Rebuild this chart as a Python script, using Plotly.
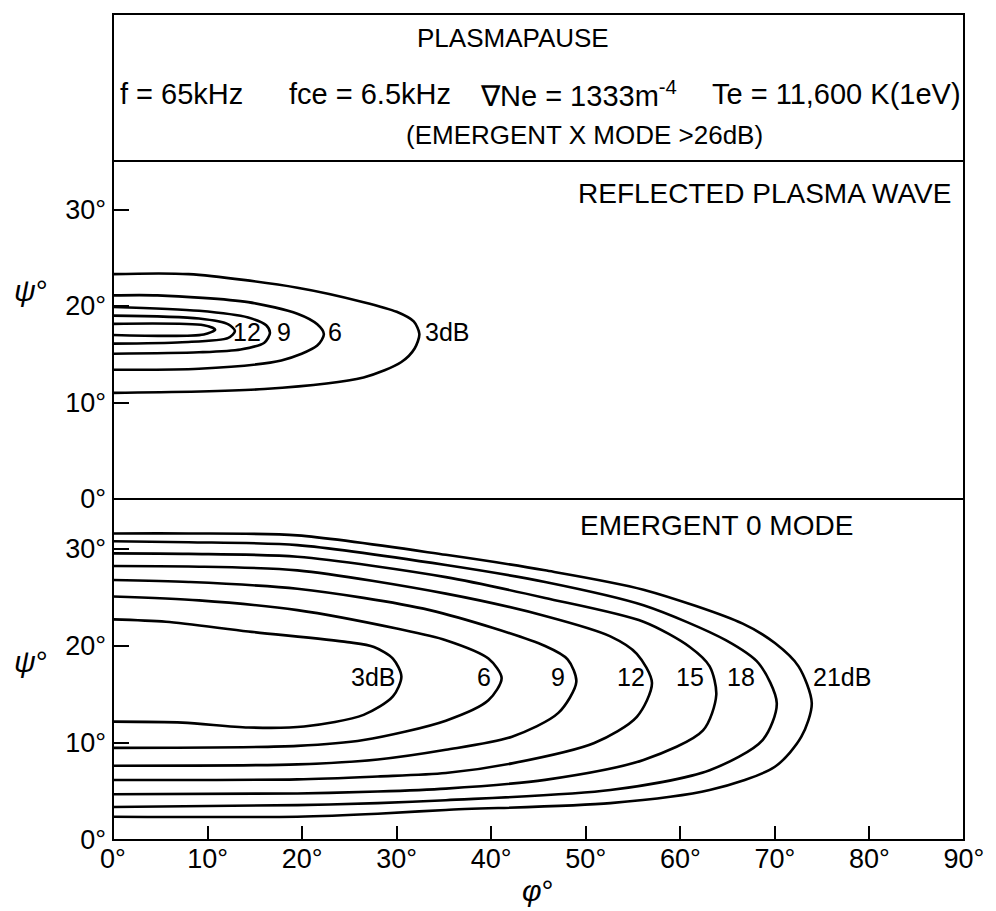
import plotly.graph_objects as go

# ---------------- data ----------------
phi_ticks = [0, 10, 20, 30, 40, 50, 60, 70, 80, 90]
phi_ticktext = ["0°", "10°", "20°", "30°", "40°", "50°", "60°", "70°", "80°", "90°"]
psi_ticks = [0, 10, 20, 30]
psi_ticktext = ["0°", "10°", "20°", "30°"]

# Upper panel: reflected plasma wave (contours 3,6,9,12 dB + innermost unlabeled 15 dB)
up3_phi = [0, 8, 19.5, 26.5, 30.0, 31.8, 32.4, 31.9, 30.5, 26.5, 16.0, 0]
up3_psi = [23.3, 23.3, 21.9, 20.4, 19.4, 18.4, 17.1, 15.6, 14.2, 12.6, 11.4, 11.0]
up6_phi = [0, 4.7, 14.3, 19.5, 21.6, 22.3, 21.6, 17.8, 9.1, 0]
up6_psi = [21.1, 21.1, 20.4, 19.2, 18.1, 17.1, 15.9, 14.35, 13.5, 13.4]
up9_phi = [0, 9.1, 14.3, 16.2, 16.6, 16.0, 13.5, 9.1, 0]
up9_psi = [19.9, 19.5, 18.8, 18.0, 17.2, 16.2, 15.5, 15.2, 15.05]
up12_phi = [0, 9.1, 12.2, 12.9, 12.2, 7.3, 0]
up12_psi = [19.0, 18.7, 18.1, 17.4, 16.7, 16.25, 16.1]
up15_phi = [0, 9.6, 10.8, 9.6, 0]
up15_psi = [18.15, 18.0, 17.55, 17.05, 17.0]
up_label_text = ["12", "9", "6", "3dB"]
up_label_phi = [14.2, 18.1, 23.5, 35.3]
up_label_psi = [17.3, 17.3, 17.3, 17.3]

# Lower panel: emergent O mode (contours 3..21 dB)
lo3_phi = [0, 5.6, 14.3, 24.8, 27.6, 29.6, 30.5, 29.6, 26.5, 20.2, 14.3, 7.35, 0]
lo3_psi = [22.75, 22.5, 21.5, 20.4, 19.9, 18.7, 16.85, 14.8, 12.9, 11.7, 11.6, 12.1, 12.2]
lo6_phi = [0, 9.1, 19.5, 30.0, 35.2, 39.7, 41.1, 39.7, 35.2, 26.5, 19.5, 0]
lo6_psi = [25.1, 24.7, 23.7, 21.8, 20.6, 18.7, 16.7, 14.4, 12.3, 10.3, 9.7, 9.5]
lo9_phi = [0, 8, 19.5, 33.5, 45.7, 48.1, 49.0, 47.1, 42.2, 35.2, 28.0, 19.5, 0]
lo9_psi = [26.8, 26.6, 25.9, 23.7, 20.0, 18.6, 16.3, 13.1, 10.65, 9.3, 8.3, 7.8, 7.66]
lo12_phi = [0, 8, 19.5, 35.2, 45.7, 52.6, 55.4, 57.0, 55.4, 50.9, 42.2, 35.2, 28.0, 19.5, 0]
lo12_psi = [28.25, 28.2, 27.8, 25.4, 23.1, 21.0, 19.2, 16.2, 12.7, 10.0, 7.9, 6.9, 6.55, 6.25, 6.19]
lo15_phi = [0, 8, 19.5, 35.2, 45.7, 56.1, 61.0, 63.1, 63.8, 62.4, 56.1, 45.7, 35.2, 28.0, 19.5, 0]
lo15_psi = [29.55, 29.5, 29.2, 27.1, 24.95, 22.5, 19.9, 17.9, 14.95, 11.3, 8.25, 6.2, 5.3, 5.0, 4.8, 4.71]
lo18_phi = [0, 8, 19.5, 35.2, 45.7, 56.1, 64.8, 68.3, 70.2, 68.7, 63.1, 52.6, 35.2, 28.0, 19.5, 0]
lo18_psi = [30.8, 30.7, 30.4, 28.35, 26.6, 24.2, 20.6, 18.2, 14.1, 10.3, 7.2, 5.15, 4.1, 3.8, 3.6, 3.4]
lo21_phi = [0, 8, 19.5, 35.2, 45.7, 56.1, 66.6, 70.0, 72.5, 73.9, 72.8, 70.0, 63.1, 52.6, 35.2, 28.0, 19.5, 0]
lo21_psi = [31.6, 31.6, 31.4, 29.4, 27.8, 25.8, 22.3, 20.3, 17.9, 14.1, 10.65, 7.55, 5.15, 3.8, 3.1, 2.7, 2.4, 2.4]
lo_label_text = ["3dB", "6", "9", "12", "15", "18", "21dB"]
lo_label_phi = [27.5, 39.2, 47.1, 54.75, 61.0, 66.45, 77.1]
lo_label_psi = [16.85, 16.85, 16.85, 16.85, 16.85, 16.85, 16.85]

# ---------------- figure ----------------
FONT = "Liberation Sans, Arial, Helvetica, sans-serif"
W, H = 996, 911
ML, MR, MT, MB = 113, 22, 14, 71
PH = H - MT - MB  # plot height in px
PW = W - ML - MR
y_lower_top = (840 - 499) / PH
y_upper_top = (840 - 161) / PH


def px_x(x):
    return (x - ML) / PW


def px_y(y):
    return (840 - y) / PH


fig = go.Figure()
line_style = dict(color="black", width=2.6, shape="spline", smoothing=0.8)

for xs, ys in [(up3_phi, up3_psi), (up6_phi, up6_psi), (up9_phi, up9_psi),
               (up12_phi, up12_psi), (up15_phi, up15_psi)]:
    fig.add_trace(go.Scatter(x=xs, y=ys, mode="lines", line=line_style,
                             xaxis="x", yaxis="y2", showlegend=False, hoverinfo="skip"))

for xs, ys in [(lo3_phi, lo3_psi), (lo6_phi, lo6_psi), (lo9_phi, lo9_psi),
               (lo12_phi, lo12_psi), (lo15_phi, lo15_psi), (lo18_phi, lo18_psi),
               (lo21_phi, lo21_psi)]:
    fig.add_trace(go.Scatter(x=xs, y=ys, mode="lines", line=line_style,
                             xaxis="x", yaxis="y", showlegend=False, hoverinfo="skip"))

LABEL_FONT = dict(size=25, color="black", family=FONT)
annotations = []
for t, xv, yv in zip(up_label_text, up_label_phi, up_label_psi):
    annotations.append(dict(x=xv, y=yv, xref="x", yref="y2", text=t, showarrow=False,
                            xanchor="center", yanchor="middle", font=LABEL_FONT))
for t, xv, yv in zip(lo_label_text, lo_label_phi, lo_label_psi):
    annotations.append(dict(x=xv, y=yv, xref="x", yref="y", text=t, showarrow=False,
                            xanchor="center", yanchor="middle", font=LABEL_FONT))


def txt(text, x, y, size, xanchor="center"):
    return dict(x=px_x(x), y=px_y(y), xref="paper", yref="paper", text=text,
                showarrow=False, xanchor=xanchor, yanchor="middle",
                font=dict(size=size, family=FONT, color="black"))


annotations += [
    txt("PLASMAPAUSE", 518, 38, 26),
    txt("f = 65kHz", 118, 94, 29, "left"),
    txt("fce = 6.5kHz", 289, 94, 29, "left"),
    txt("∇Ne = 1333m<sup>-4</sup>", 482, 94, 29, "left"),
    txt("Te = 11,600 K(1eV)", 973, 94, 29, "right"),
    txt("(EMERGENT X MODE >26dB)", 590, 135, 26),
    txt("REFLECTED PLASMA WAVE", 963, 193, 28, "right"),
    txt("EMERGENT 0 MODE", 864, 525, 28, "right"),
    txt("<i>ψ</i>°", 30, 290, 30),
    txt("<i>ψ</i>°", 30, 661, 30),
    txt("<i>φ</i>°", 543, 890, 30),
]

shapes = [
    dict(type="rect", xref="paper", yref="paper", x0=0, x1=1, y0=0, y1=1,
         line=dict(color="black", width=2)),
    dict(type="line", xref="paper", yref="paper", x0=0, x1=1, y0=y_lower_top, y1=y_lower_top,
         line=dict(color="black", width=2)),
    dict(type="line", xref="paper", yref="paper", x0=0, x1=1, y0=y_upper_top, y1=y_upper_top,
         line=dict(color="black", width=2)),
]

tickfont = dict(size=27, family=FONT, color="black")
fig.update_layout(
    width=W, height=H,
    margin=dict(l=ML, r=MR, t=MT, b=MB),
    paper_bgcolor="white", plot_bgcolor="white",
    showlegend=False,
    xaxis=dict(domain=[0, 1], range=[0, 90], anchor="y", tickvals=phi_ticks,
               ticktext=phi_ticktext, ticks="inside", ticklen=14, tickwidth=2,
               tickcolor="black", showgrid=False, zeroline=False, showline=False,
               tickfont=tickfont, fixedrange=True),
    yaxis=dict(domain=[0, y_lower_top], range=[0, 341 / 9.7], anchor="x",
               tickvals=psi_ticks, ticktext=psi_ticktext, ticks="inside", ticklen=16,
               tickwidth=2, tickcolor="black", showgrid=False, zeroline=False,
               showline=False, tickfont=tickfont, ticklabelstandoff=6),
    yaxis2=dict(domain=[y_lower_top, y_upper_top], range=[0, 338 / 9.65], anchor="x",
                tickvals=psi_ticks, ticktext=psi_ticktext, ticks="inside", ticklen=16,
                tickwidth=2, tickcolor="black", showgrid=False, zeroline=False,
                showline=False, tickfont=tickfont, ticklabelstandoff=6),
    annotations=annotations,
    shapes=shapes,
)

fig.write_html("out.html")
